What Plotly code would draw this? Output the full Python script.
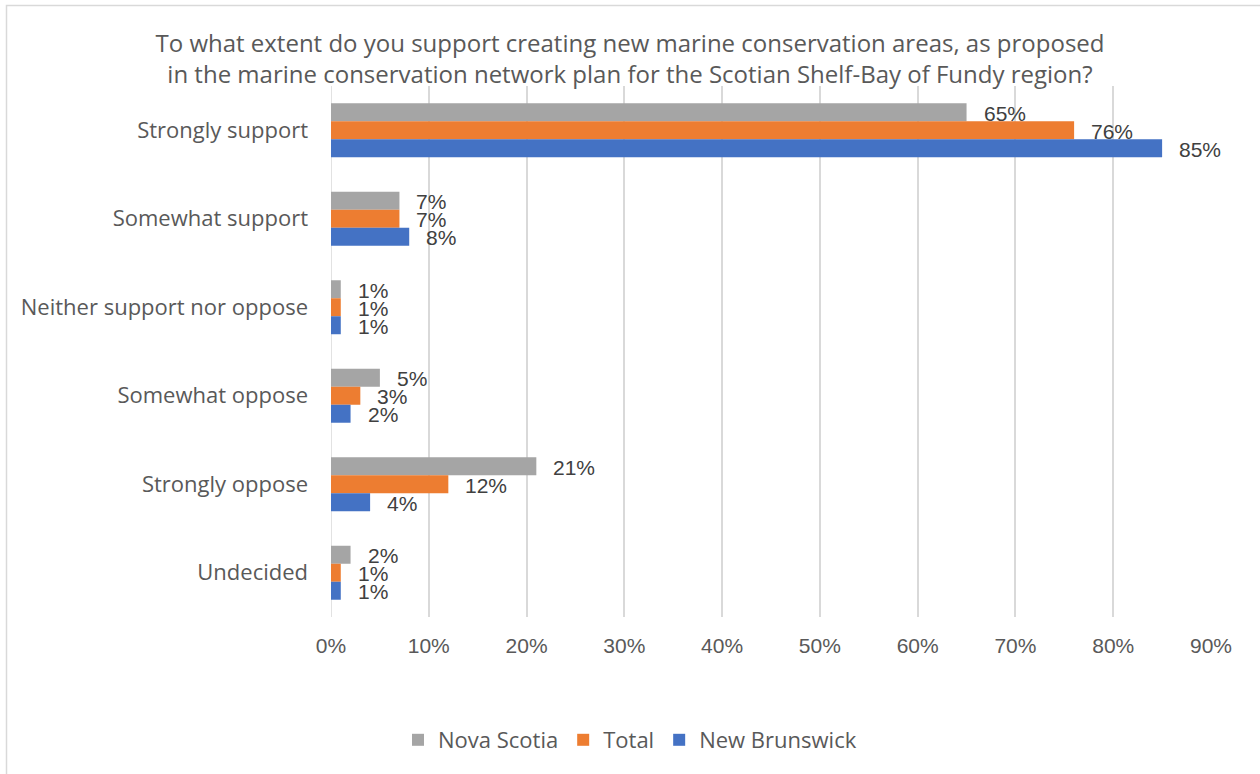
import plotly.graph_objects as go

# Survey responses (percent)
categories = [
    "Strongly support",
    "Somewhat support",
    "Neither support nor oppose",
    "Somewhat oppose",
    "Strongly oppose",
    "Undecided",
]
nova_scotia = [65, 7, 1, 5, 21, 2]
total = [76, 7, 1, 3, 12, 1]
new_brunswick = [85, 8, 1, 2, 4, 1]

x_ticks = [0, 10, 20, 30, 40, 50, 60, 70, 80, 90]
x_tick_labels = [f"{t}%" for t in x_ticks]

series = [
    ("Nova Scotia", nova_scotia, "#A5A5A5"),
    ("Total", total, "#ED7D31"),
    ("New Brunswick", new_brunswick, "#4472C4"),
]

TEXT = "#595959"
LABEL = "#404040"
GRID = "#D9D9D9"
CAT_FONT = "'Open Sans', Lato, sans-serif"
NUM_FONT = "'Liberation Sans', Arial, sans-serif"

fig = go.Figure()
for name, vals, color in series:
    fig.add_trace(go.Bar(
        y=categories,
        x=vals,
        name=name,
        orientation="h",
        marker=dict(color=color, line=dict(width=0)),
        hovertemplate="%{y}: %{x}%<extra>" + name + "</extra>",
    ))

# value labels to the right of each bar, stacked like the bars in each group
shifts = {"Nova Scotia": 17, "Total": -1, "New Brunswick": -19}
annotations = []
for name, vals, _ in series:
    for cat, v in zip(categories, vals):
        annotations.append(dict(
            x=v, y=cat, xref="x", yref="y",
            text=f"{v}%", showarrow=False,
            xanchor="left", yanchor="middle",
            xshift=15, yshift=shifts[name],
            font=dict(family=NUM_FONT, size=21, color=LABEL),
        ))

fig.update_layout(
    width=1260, height=774,
    margin=dict(l=331, r=49, t=86, b=157),
    paper_bgcolor="white",
    plot_bgcolor="white",
    barmode="group",
    bargap=0.39,
    bargroupgap=0,
    title=dict(
        text="To what extent do you support creating new marine conservation areas, as proposed<br>"
             "in the marine conservation network plan for the Scotian Shelf-Bay of Fundy region?",
        x=0.5, xref="container", xanchor="center",
        y=1 - 52 / 774, yref="container", yanchor="middle",
        font=dict(family=CAT_FONT, size=24, color=TEXT),
    ),
    xaxis=dict(
        range=[0, 90],
        tickvals=x_ticks,
        ticktext=x_tick_labels,
        showgrid=True, gridcolor=GRID, gridwidth=1.5,
        zeroline=False, showline=False,
        ticks="", ticklabelstandoff=14,
        tickfont=dict(family=NUM_FONT, size=21, color=TEXT),
        fixedrange=True,
    ),
    yaxis=dict(
        autorange="reversed",
        showgrid=False, zeroline=False,
        showline=False,
        ticks="", ticklabelstandoff=22,
        tickfont=dict(family=CAT_FONT, size=22, color=TEXT),
        fixedrange=True,
    ),
    legend=dict(
        orientation="h",
        x=0.5, xref="container", xanchor="center",
        y=1 - 740 / 774, yref="container", yanchor="middle",
        font=dict(family=CAT_FONT, size=22, color=TEXT),
        itemwidth=30,
        traceorder="normal",
    ),
    annotations=annotations,
    shapes=[
        # axis line at 0%
        dict(type="line", xref="x", yref="paper", x0=0, x1=0, y0=0, y1=1,
             line=dict(color=GRID, width=1.5), layer="below"),
        # chart frame
        dict(type="rect", xref="paper", yref="paper",
             x0=(6.5 - 331) / 880, x1=(1265 - 331) / 880,
             y0=(617 - 790) / 531, y1=(617 - 5.5) / 531,
             line=dict(color=GRID, width=1.5), fillcolor="rgba(0,0,0,0)"),
    ],
)

fig.write_html("out.html")
